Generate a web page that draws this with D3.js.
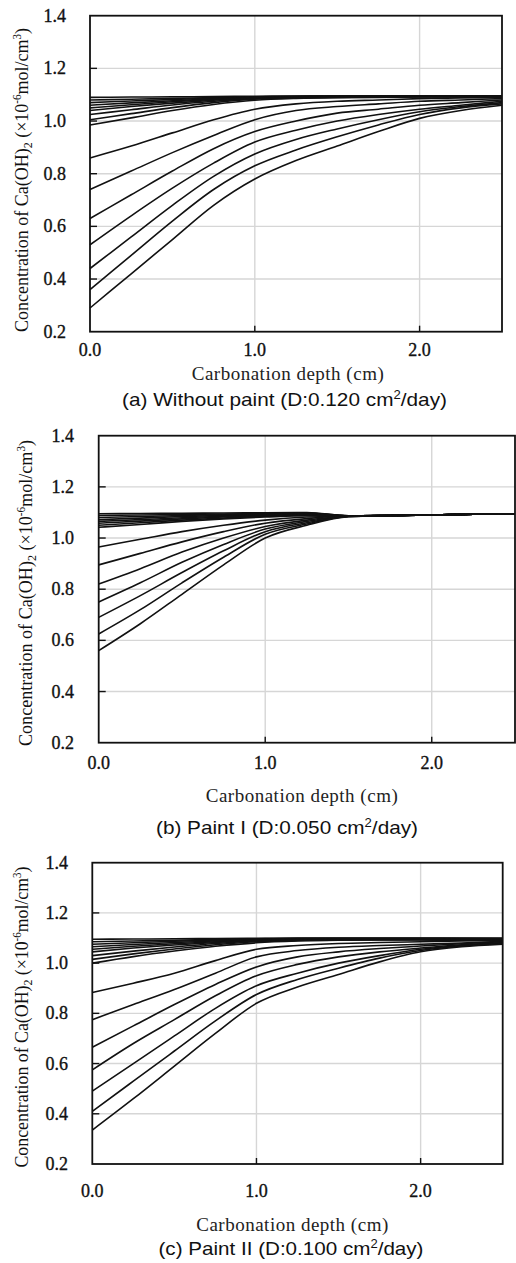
<!DOCTYPE html>
<html>
<head>
<meta charset="utf-8">
<script src="https://cdn.jsdelivr.net/npm/d3@7"></script>
<style>
  html, body { margin: 0; padding: 0; background: #fff; }
  svg { display: block; }
</style>
</head>
<body>
<svg id="chart" width="516" height="1263"></svg>
<script>
// ---------------- DATA ----------------
const depth = [0, 0.25, 0.5, 0.75, 1.0, 1.25, 1.5, 1.75, 2.0, 2.25, 2.5];
const yTickValues = [0.2, 0.4, 0.6, 0.8, 1.0, 1.2, 1.4];
const yTickLabels = ["0.2", "0.4", "0.6", "0.8", "1.0", "1.2", "1.4"];
const xTickValues = [0, 1, 2];
const xTickLabels = ["0.0", "1.0", "2.0"];

const titleA = "(a) Without paint (D:0.120 cm";
const titleB = "(b) Paint I (D:0.050 cm";
const titleC = "(c) Paint II (D:0.100 cm";

// (a) Without paint
const curvesA = [
  [1.090, 1.091, 1.092, 1.093, 1.094, 1.095, 1.095, 1.095, 1.095, 1.095, 1.095],
  [1.080, 1.083, 1.086, 1.089, 1.092, 1.094, 1.095, 1.095, 1.095, 1.095, 1.095],
  [1.070, 1.076, 1.082, 1.087, 1.091, 1.093, 1.094, 1.095, 1.095, 1.095, 1.095],
  [1.060, 1.069, 1.077, 1.084, 1.090, 1.092, 1.093, 1.094, 1.094, 1.095, 1.095],
  [1.050, 1.062, 1.073, 1.082, 1.089, 1.092, 1.093, 1.093, 1.094, 1.094, 1.094],
  [1.040, 1.055, 1.068, 1.079, 1.088, 1.091, 1.092, 1.093, 1.093, 1.094, 1.094],
  [1.025, 1.043, 1.061, 1.075, 1.086, 1.090, 1.091, 1.092, 1.093, 1.093, 1.093],
  [1.005, 1.028, 1.051, 1.070, 1.083, 1.088, 1.090, 1.091, 1.092, 1.092, 1.093],
  [0.985, 1.012, 1.040, 1.063, 1.079, 1.086, 1.089, 1.090, 1.091, 1.092, 1.092],
  [0.860, 0.905, 0.955, 1.005, 1.045, 1.065, 1.075, 1.080, 1.085, 1.088, 1.090],
  [0.740, 0.810, 0.880, 0.945, 1.005, 1.040, 1.055, 1.065, 1.075, 1.080, 1.085],
  [0.630, 0.720, 0.810, 0.895, 0.960, 1.000, 1.030, 1.045, 1.060, 1.070, 1.080],
  [0.530, 0.640, 0.745, 0.840, 0.920, 0.965, 1.000, 1.025, 1.045, 1.060, 1.075],
  [0.440, 0.560, 0.680, 0.790, 0.875, 0.930, 0.970, 1.005, 1.035, 1.055, 1.070],
  [0.360, 0.490, 0.620, 0.740, 0.830, 0.890, 0.940, 0.985, 1.025, 1.050, 1.065],
  [0.290, 0.420, 0.550, 0.680, 0.780, 0.850, 0.905, 0.960, 1.010, 1.040, 1.060]
];

// (b) Paint I
const curvesB = [
  [1.095, 1.096, 1.097, 1.098, 1.099, 1.100, 1.087, 1.088, 1.090, 1.093, 1.095],
  [1.088, 1.090, 1.092, 1.094, 1.096, 1.098, 1.087, 1.088, 1.090, 1.093, 1.095],
  [1.080, 1.084, 1.088, 1.091, 1.094, 1.097, 1.087, 1.088, 1.090, 1.093, 1.095],
  [1.072, 1.078, 1.084, 1.088, 1.092, 1.095, 1.087, 1.088, 1.090, 1.093, 1.095],
  [1.065, 1.072, 1.079, 1.085, 1.090, 1.093, 1.087, 1.088, 1.090, 1.093, 1.095],
  [1.058, 1.066, 1.075, 1.082, 1.088, 1.091, 1.087, 1.088, 1.090, 1.093, 1.095],
  [1.050, 1.060, 1.070, 1.078, 1.085, 1.089, 1.087, 1.088, 1.090, 1.093, 1.095],
  [1.042, 1.053, 1.065, 1.075, 1.082, 1.087, 1.087, 1.088, 1.090, 1.093, 1.095],
  [0.965, 0.995, 1.025, 1.050, 1.070, 1.082, 1.086, 1.088, 1.090, 1.093, 1.095],
  [0.895, 0.940, 0.985, 1.025, 1.058, 1.076, 1.086, 1.088, 1.090, 1.093, 1.095],
  [0.820, 0.880, 0.945, 1.000, 1.045, 1.070, 1.085, 1.088, 1.090, 1.093, 1.095],
  [0.750, 0.825, 0.905, 0.975, 1.035, 1.065, 1.085, 1.088, 1.090, 1.093, 1.095],
  [0.690, 0.775, 0.865, 0.950, 1.025, 1.060, 1.084, 1.088, 1.090, 1.093, 1.095],
  [0.625, 0.720, 0.825, 0.925, 1.015, 1.055, 1.084, 1.088, 1.090, 1.093, 1.095],
  [0.560, 0.665, 0.780, 0.895, 1.000, 1.050, 1.083, 1.088, 1.090, 1.093, 1.095]
];

// (c) Paint II
const curvesC = [
  [1.095, 1.096, 1.097, 1.098, 1.099, 1.100, 1.100, 1.100, 1.100, 1.100, 1.100],
  [1.085, 1.088, 1.091, 1.094, 1.097, 1.099, 1.099, 1.099, 1.099, 1.099, 1.098],
  [1.075, 1.081, 1.087, 1.091, 1.095, 1.097, 1.098, 1.098, 1.098, 1.097, 1.097],
  [1.065, 1.074, 1.082, 1.088, 1.093, 1.096, 1.097, 1.097, 1.097, 1.096, 1.096],
  [1.055, 1.067, 1.077, 1.085, 1.092, 1.095, 1.096, 1.096, 1.096, 1.095, 1.095],
  [1.045, 1.060, 1.072, 1.082, 1.090, 1.094, 1.095, 1.095, 1.095, 1.094, 1.094],
  [1.030, 1.048, 1.064, 1.078, 1.088, 1.092, 1.094, 1.094, 1.094, 1.093, 1.093],
  [1.015, 1.037, 1.056, 1.073, 1.085, 1.090, 1.092, 1.093, 1.093, 1.092, 1.092],
  [1.000, 1.026, 1.048, 1.067, 1.081, 1.088, 1.091, 1.092, 1.092, 1.091, 1.091],
  [0.883, 0.920, 0.960, 1.010, 1.055, 1.070, 1.078, 1.082, 1.085, 1.088, 1.090],
  [0.775, 0.835, 0.895, 0.960, 1.025, 1.050, 1.063, 1.070, 1.075, 1.080, 1.087],
  [0.665, 0.750, 0.835, 0.915, 0.985, 1.025, 1.045, 1.058, 1.068, 1.077, 1.085],
  [0.575, 0.680, 0.775, 0.870, 0.950, 0.995, 1.025, 1.045, 1.060, 1.073, 1.082],
  [0.490, 0.600, 0.710, 0.820, 0.910, 0.960, 1.000, 1.030, 1.055, 1.070, 1.080],
  [0.410, 0.530, 0.650, 0.770, 0.875, 0.935, 0.980, 1.020, 1.050, 1.068, 1.078],
  [0.335, 0.460, 0.590, 0.720, 0.840, 0.905, 0.955, 1.005, 1.045, 1.065, 1.075]
];

// ---------------- LAYOUT ----------------
const panels = [
  { curves: curvesA, title: titleA, left: 90, right: 502, top: 15.7, bottom: 331.7,
    tickRight: 66, xTickBase: 356, xTitleX: 288, xTitleBase: 379.5,
    yTitleX: 27.5, yTitleY: 180, yTitleLen: 304, titleX: 284.5, titleBase: 405.5, titleLen: 325 },
  { curves: curvesB, title: titleB, left: 98.7, right: 515, top: 435.7, bottom: 742.7,
    tickRight: 74, xTickBase: 768.5, xTitleX: 302, xTitleBase: 801.5,
    yTitleX: 32, yTitleY: 593, yTitleLen: 306, titleX: 287, titleBase: 833.5, titleLen: 262 },
  { curves: curvesC, title: titleC, left: 92.3, right: 502.7, top: 862.7, bottom: 1164,
    tickRight: 68, xTickBase: 1196.5, xTitleX: 292.5, xTitleBase: 1231,
    yTitleX: 27.5, yTitleY: 1017, yTitleLen: 301, titleX: 291, titleBase: 1255, titleLen: 265 }
];

const svg = d3.select("#chart");
const serif = "'Liberation Serif', 'Times New Roman', serif";
const sans = "'Liberation Sans', Arial, sans-serif";

panels.forEach((p) => {
  const x = d3.scaleLinear().domain([0, 2.5]).range([p.left, p.right]);
  const y = d3.scaleLinear().domain([0.2, 1.4]).range([p.bottom, p.top]);
  const g = svg.append("g");

  // grid
  g.selectAll(".gy").data(yTickValues.slice(1, -1)).enter().append("line")
    .attr("x1", p.left).attr("x2", p.right)
    .attr("y1", d => y(d)).attr("y2", d => y(d))
    .attr("stroke", "#d6d6d6").attr("stroke-width", 1.4);
  g.selectAll(".gx").data(xTickValues.slice(1)).enter().append("line")
    .attr("x1", d => x(d)).attr("x2", d => x(d))
    .attr("y1", p.top).attr("y2", p.bottom)
    .attr("stroke", "#d6d6d6").attr("stroke-width", 1.4);

  // curves
  const line = d3.line().x((d, i) => x(depth[i])).y(d => y(d)).curve(d3.curveMonotoneX);
  g.selectAll(".curve").data(p.curves).enter().append("path")
    .attr("d", line).attr("fill", "none")
    .attr("stroke", "#111").attr("stroke-width", 1.6)
    .attr("stroke-linejoin", "round");

  // inward ticks
  g.selectAll(".ty").data(yTickValues.slice(1, -1)).enter().append("line")
    .attr("x1", p.left).attr("x2", p.left + 7)
    .attr("y1", d => y(d)).attr("y2", d => y(d))
    .attr("stroke", "#111").attr("stroke-width", 1.4);
  g.selectAll(".tx").data(xTickValues.slice(1)).enter().append("line")
    .attr("x1", d => x(d)).attr("x2", d => x(d))
    .attr("y1", p.bottom).attr("y2", p.bottom - 6)
    .attr("stroke", "#111").attr("stroke-width", 1.4);

  // frame
  g.append("rect").attr("x", p.left).attr("y", p.top)
    .attr("width", p.right - p.left).attr("height", p.bottom - p.top)
    .attr("fill", "none").attr("stroke", "#111").attr("stroke-width", 1.8);

  // y tick labels
  g.selectAll(".yl").data(yTickValues).enter().append("text")
    .attr("x", p.tickRight).attr("y", d => y(d))
    .attr("dy", "0.34em").attr("text-anchor", "end")
    .attr("font-family", serif).attr("font-size", 18).attr("fill", "#111")
    .attr("stroke", "#111").attr("stroke-width", 0.35)
    .text((d, i) => yTickLabels[i]);

  // x tick labels
  g.selectAll(".xl").data(xTickValues).enter().append("text")
    .attr("x", d => x(d)).attr("y", p.xTickBase)
    .attr("text-anchor", "middle")
    .attr("font-family", serif).attr("font-size", 18).attr("fill", "#111")
    .attr("stroke", "#111").attr("stroke-width", 0.35)
    .text((d, i) => xTickLabels[i]);

  // x axis title
  g.append("text").attr("x", p.xTitleX).attr("y", p.xTitleBase)
    .attr("text-anchor", "middle")
    .attr("font-family", serif).attr("font-size", 19).attr("fill", "#222")
    .attr("letter-spacing", 0.5)
    .text("Carbonation depth (cm)");

  // y axis title (rotated)
  const yt = g.append("text")
    .attr("transform", `translate(${p.yTitleX},${p.yTitleY}) rotate(-90)`)
    .attr("text-anchor", "middle")
    .attr("font-family", serif).attr("font-size", 19.5).attr("fill", "#111")
    .attr("textLength", p.yTitleLen).attr("lengthAdjust", "spacingAndGlyphs");
  yt.append("tspan").text("Concentration of Ca(OH)");
  yt.append("tspan").attr("font-size", 13).attr("dy", 4).text("2");
  yt.append("tspan").attr("dy", -4).text(" (×10");
  yt.append("tspan").attr("font-size", 12).attr("dy", -7).text("-6");
  yt.append("tspan").attr("dy", 7).text("mol/cm");
  yt.append("tspan").attr("font-size", 12).attr("dy", -7).text("3");
  yt.append("tspan").attr("dy", 7).text(")");

  // panel title
  const tt = g.append("text").attr("x", p.titleX).attr("y", p.titleBase)
    .attr("text-anchor", "middle")
    .attr("font-family", sans).attr("font-size", 19).attr("fill", "#111")
    .attr("textLength", p.titleLen).attr("lengthAdjust", "spacingAndGlyphs");
  tt.append("tspan").text(p.title);
  tt.append("tspan").attr("font-size", 12).attr("dy", -7).text("2");
  tt.append("tspan").attr("dy", 7).text("/day)");
});
</script>
</body>
</html>
